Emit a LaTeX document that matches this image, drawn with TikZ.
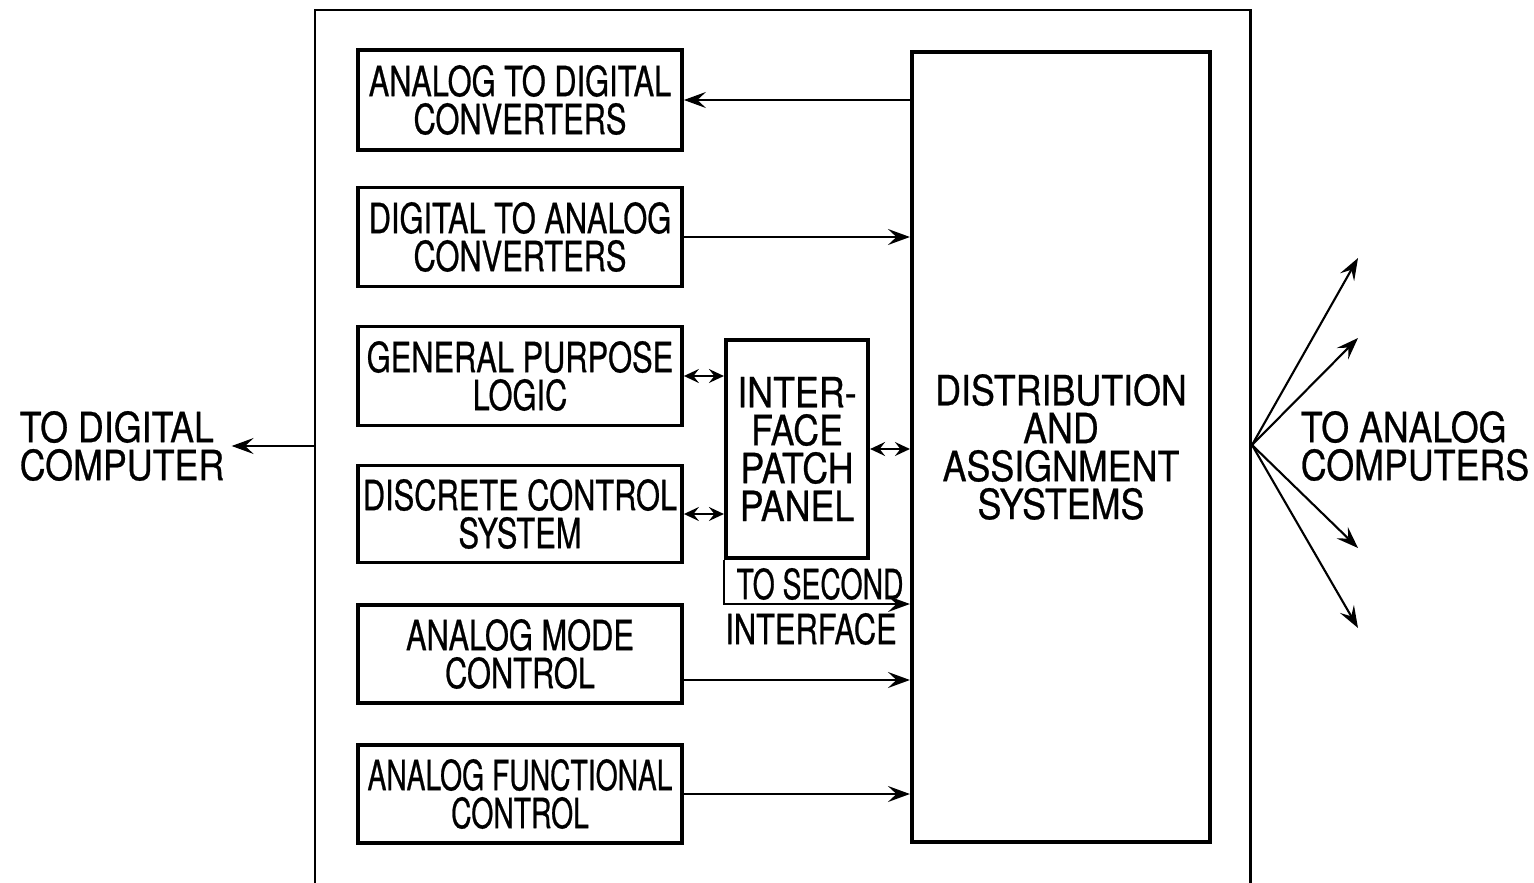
\documentclass[tikz,border=0pt]{standalone}
\usepackage{fontspec}
\newfontfamily\boxfont[FakeStretch=0.74,FakeBold=0.6]{TeX Gyre Heros}
\newfontfamily\narrowfont[FakeStretch=0.68,FakeBold=0.6]{TeX Gyre Heros}
\newfontfamily\labelfont[FakeStretch=0.86,FakeBold=0.6]{TeX Gyre Heros}
\usetikzlibrary{arrows.meta}

\begin{document}
\begin{tikzpicture}[x=0.02cm,y=-0.02cm,
	blk/.style={rectangle,draw,line width=2.2pt,minimum width=6.48cm,inner sep=1pt,align=center,font=\boxfont\fontsize{23.7}{21.6}\selectfont},
	big/.style={rectangle,draw,line width=2.4pt,inner sep=2pt,align=center,font=\labelfont\fontsize{23.7}{21.6}\selectfont},
	lbl/.style={inner sep=0pt,align=left,font=\labelfont\fontsize{23.7}{21.6}\selectfont},
	arr/.style={line width=1.2pt,-{Stealth[length=4.4mm,width=3.2mm,inset=1.7mm]}},
	dbl/.style={line width=1.2pt,{Stealth[length=3mm,width=2.8mm,inset=1.1mm]}-{Stealth[length=3mm,width=2.8mm,inset=1.1mm]}}]
	\useasboundingbox (0,0) rectangle (1534,882);
	\coordinate (frameA) at (315,900);
	\coordinate (frameB) at (1250,900);
	\draw [line width=1.7pt] (frameA) |- (1250,10) -- (frameB);
	\node (adc) at (520,100) [blk,minimum height=2cm] {ANALOG TO DIGITAL\\CONVERTERS};
	\node (dac) at (520,237) [blk,minimum height=1.98cm] {DIGITAL TO ANALOG\\CONVERTERS};
	\node (gpl) at (520,376) [blk,minimum height=1.98cm] {GENERAL PURPOSE\\LOGIC};
	\node (dcs) at (520,514) [blk,minimum height=1.94cm] {DISCRETE CONTROL\\SYSTEM};
	\node (amc) at (520,654) [blk,minimum height=1.96cm] {ANALOG MODE\\CONTROL};
	\node (afc) at (520,794) [blk,minimum height=1.96cm,font=\narrowfont\fontsize{23.7}{21.6}\selectfont] {ANALOG FUNCTIONAL\\CONTROL};
	\node (panel) at (797,449) [big,minimum width=2.84cm,minimum height=4.36cm] {INTER-\\FACE\\PATCH\\PANEL};
	\node (dist) at (1061,447) [big,minimum width=5.96cm,minimum height=15.8cm] {DISTRIBUTION\\AND\\ASSIGNMENT\\SYSTEMS};
	\node (second) at (820,584) [lbl,font=\narrowfont\fontsize{23.7}{21.6}\selectfont] {TO SECOND};
	\node (iface) at (811,629) [lbl,font=\boxfont\fontsize{23.7}{21.6}\selectfont] {INTERFACE};
	\node (digital) at (122,446) [lbl] {TO DIGITAL\\COMPUTER};
	\node (analog) at (1415,446) [lbl] {TO ANALOG\\COMPUTERS};
	\coordinate (out) at (315,446);
	\coordinate (sec) at (728,604);
	\coordinate (fan) at (1252,445);
	\coordinate (a1) at (1358,258);
	\coordinate (a2) at (1358,338);
	\coordinate (a3) at (1358,548);
	\coordinate (a4) at (1358,628);
	\draw [arr] (dist.west |- adc.east) -- (adc.east);
	\draw [arr] (dac.east) -- (dac.east -| dist.west);
	\draw [dbl] (gpl.east) -- (gpl.east -| panel.west);
	\draw [dbl] (dcs.east) -- (dcs.east -| panel.west);
	\draw [dbl] (panel.east) -- (panel.east -| dist.west);
	\draw [arr] (panel.south west) |- (sec -| dist.west);
	\draw [arr] ([yshift=-0.52cm]amc.east) -- ([yshift=-0.52cm]amc.east -| dist.west);
	\draw [arr] (afc.east) -- (afc.east -| dist.west);
	\draw [arr] (out) -- ([xshift=4pt]digital.east);
	\foreach \e in {a1,a2,a3,a4}
		\draw [arr] (fan) -- (\e);
\end{tikzpicture}
\end{document}
